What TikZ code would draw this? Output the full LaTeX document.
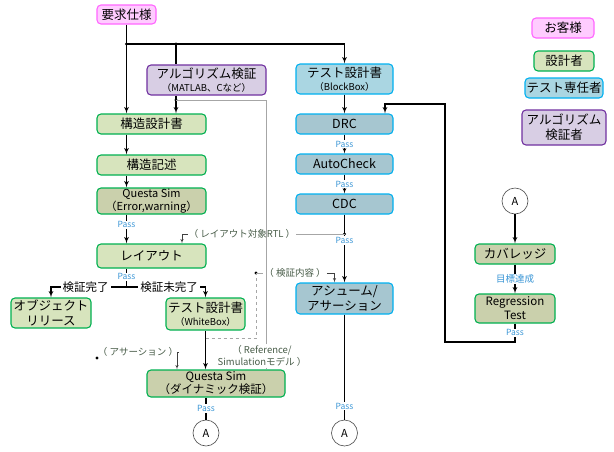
\documentclass[tikz,border=0pt]{standalone}
\usepackage{fontspec}
\setmainfont{Noto Sans CJK JP}
\usetikzlibrary{positioning,arrows}

\definecolor{custline}{RGB}{255,102,255}
\definecolor{custfill}{RGB}{255,204,255}
\definecolor{desline}{RGB}{0,176,80}
\definecolor{desfill}{RGB}{215,228,189}
\definecolor{deshatch}{RGB}{202,208,172}
\definecolor{tstline}{RGB}{0,176,240}
\definecolor{tstfill}{RGB}{170,214,226}
\definecolor{tsthatch}{RGB}{166,198,208}
\definecolor{algline}{RGB}{112,48,160}
\definecolor{algfill}{RGB}{216,206,228}
\definecolor{passblue}{RGB}{58,150,214}
\definecolor{notetext}{RGB}{72,92,72}

\newcommand{\subl}[1]{{\fontsize{9.5}{11}\selectfont #1}}

\begin{document}
\begin{tikzpicture}[x=1pt,y=-1pt]
		\tikzset{box/.style = {draw,rounded corners=4pt,line width=1.1pt,align=center,inner sep=0pt,
			minimum width=109,minimum height=20,font=\fontsize{12.5}{13.5}\selectfont}}
		\tikzset{cust/.style = {box,draw=custline,fill=custfill}}
		\tikzset{des/.style = {box,draw=desline,fill=desfill}}
		\tikzset{desh/.style = {box,draw=desline,fill=deshatch}}
		\tikzset{tst/.style = {box,draw=tstline,fill=tstfill}}
		\tikzset{tsth/.style = {box,draw=tstline,fill=tsthatch}}
		\tikzset{alg/.style = {box,draw=algline,fill=algfill}}
		\tikzset{conn/.style = {circle,draw=black!70,line width=0.6pt,minimum size=26,inner sep=0pt,font=\fontsize{11}{12}\selectfont}}
		\tikzset{pass/.style = {fill=white,inner sep=1pt,text=passblue,font=\fontsize{8.5}{9}\selectfont}}
		\tikzset{note/.style = {fill=white,inner sep=1pt,text=notetext,align=center,font=\fontsize{9.5}{12}\selectfont}}
		\tikzset{func/.style = {->,> = latex',line width=1.2pt}}
		\tikzset{plain/.style = {line width=1.2pt}}
		\tikzset{refline/.style = {draw=black!35,line width=0.7pt}}
		\tikzset{hook/.style = {->,> = latex',black!75,line width=0.5pt}}

		\useasboundingbox (0,0) rectangle (614,451);

		% legend
		\node[cust,minimum width=62] (lgcust) at (563,28){お客様};
		\node[des,minimum width=60] (lgdes) at (564,61){設計者};
		\node[tst,minimum width=78] (lgtst) at (564,88){テスト専任者};
		\node[alg,minimum width=84,minimum height=35,font=\fontsize{12.5}{15}\selectfont] (lgalg) at (564,127.5){アルゴリズム\\検証者};

		% design side
		\node[cust,minimum width=59,minimum height=19] (req) at (126.5,14.5){要求仕様};
		\node[alg,minimum width=119,minimum height=30] (algo) at (206.5,80){アルゴリズム検証\\\subl{（MATLAB、Cなど）}};
		\node[des] (arch) at (151.5,124){構造設計書};
		\node[des] (rtl) at (151.5,165){構造記述};
		\node[desh,minimum height=26,font=\fontsize{11}{13}\selectfont] (lint) at (151.5,201){Questa Sim\\（Error,warning）};
		\node[des,minimum height=24] (layout) at (151.5,256){レイアウト};
		\node[des,minimum width=80,minimum height=30,font=\fontsize{12.5}{15}\selectfont] (obj) at (51,313){オブジェクト\\リリース};
		\node[des,minimum width=79,minimum height=32] (wbspec) at (205.5,314){テスト設計書\\\subl{（WhiteBox）}};
		\node[desh,minimum width=138,minimum height=27,font=\fontsize{11.5}{13}\selectfont] (dynsim) at (216,383.5){Questa Sim\\（ダイナミック検証）};
		\node[conn] (conA1) at (206,433){A};

		% test side
		\node[tst,minimum width=97,minimum height=30] (bbspec) at (344.5,79){テスト設計書\\\subl{（BlockBox）}};
		\node[tsth,minimum width=97] (drc) at (344.5,124){DRC};
		\node[tsth,minimum width=97] (auto) at (344.5,164){AutoCheck};
		\node[tsth,minimum width=97] (cdc) at (344.5,204){CDC};
		\node[tsth,minimum width=97,minimum height=31,font=\fontsize{12.5}{15}\selectfont] (asm) at (344.5,298.5){アシューム/\\アサーション};
		\node[conn] (conA2) at (344.5,433){A};

		% coverage side
		\node[conn] (conA3) at (515,201){A};
		\node[desh,minimum width=80] (cov) at (515,254){カバレッジ};
		\node[desh,minimum width=80,minimum height=29,font=\fontsize{11.5}{14}\selectfont] (regr) at (515,308.5){Regression\\Test};

		% notes
		\node[note] (rtllbl) at (242,234){（ レイアウト対象RTL ）};
		\node[note] (vclbl) at (295,273){（ 検証内容 ）};
		\node[note] (aslbl) at (138,352){（ アサーション ）};
		\node[note] (mdllbl) at (262,356){（ Reference/\\Simulationモデル ）};

		% junctions
		\coordinate (j1) at (126.5,44);
		\coordinate (j2) at (176,44);
		\coordinate (j3) at (176,100);
		\coordinate (mdl) at (266,100);
		\coordinate (j4) at (344.5,234);
		\coordinate (split) at (126.5,287);
		\coordinate (vc1) at (256,338);
		\coordinate (vc2) at (256,273);
		\coordinate (asdot) at (97,358);
		\coordinate (fb1) at (445,342);
		\coordinate (fb2) at (445,104);
		\foreach \j in {j1,j2,j3,j4,vc2,asdot}
			\fill (\j) circle (1.7);

		% edges requirement -> design / test
		\draw[func] (req.south) -- (arch.north -| j1);
		\draw[func] (j1) -| (bbspec.north);
		\draw[plain] (j2) -- (algo.north -| j2);
		\draw[func] (algo.south -| j2) -- (arch.north -| j2);
		\draw[refline] (j3) -- (mdl) -- (mdl |- mdllbl.north);
		\draw[refline] (mdllbl.south -| mdl) -- (mdl |- dynsim.north);
		% edges design flow
		\draw[func] (arch.south -| j1) -- (rtl.north -| j1);
		\draw[func] (rtl.south -| j1) -- (lint.north -| j1);
		\draw[func] (lint.south -| j1) -- node[pass,pos=0.35]{Pass} (layout.north -| j1);
		\draw[plain,line width=0.8pt] (layout.south -| j1) -- node[pass,pos=0.45]{Pass} (split);
		\draw[func] (split) -| node[fill=white,inner sep=2pt,pos=0.27,font=\fontsize{11.5}{12}\selectfont]{検証完了} (obj.north);
		\draw[func] (split) -| node[fill=white,inner sep=2pt,pos=0.27,font=\fontsize{11.5}{12}\selectfont]{検証未完了} (wbspec.north);
		\draw[func] (wbspec.south) -- (wbspec.south |- dynsim.north);
		\draw[plain] (dynsim.south -| conA1) -- node[pass]{Pass} (conA1.north);
		% edges test flow
		\draw[func] (bbspec.south) -- (drc.north);
		\draw[func,line width=0.8pt] (drc.south) -- node[pass]{Pass} (auto.north);
		\draw[func,line width=0.8pt] (auto.south) -- node[pass]{Pass} (cdc.north);
		\draw[func] (cdc.south) -- node[pass,pos=0.38]{Pass} (asm.north);
		\draw[plain] (asm.south) -- node[pass,pos=0.87]{Pass} (conA2.north);
		% edges coverage
		\draw[func] (conA3) -- (cov);
		\draw[func] (cov) -- node[pass,font=\fontsize{9.5}{10}\selectfont]{目標達成} (regr);
		\draw[func] (regr.south) -- node[pass]{Pass} (regr.south |- fb1) -- (fb1) -- (fb2) -| ([xshift=40.5]drc.north);
		% annotations
		\draw[refline] (j4) -- (rtllbl.east);
		\draw[hook] (rtllbl.west) -| ([xshift=30.5]layout.north);
		\draw[refline,dashed] (vc1 -| wbspec.south) -- (vc1) -- (vc2);
		\draw[refline] (vc2) -- (vclbl.west);
		\draw[hook] (vclbl.east) -| ([xshift=-10]asm.north);
		\draw[hook] (aslbl.east) -| ([xshift=-39]dynsim.north);
	\end{tikzpicture}
\end{document}
